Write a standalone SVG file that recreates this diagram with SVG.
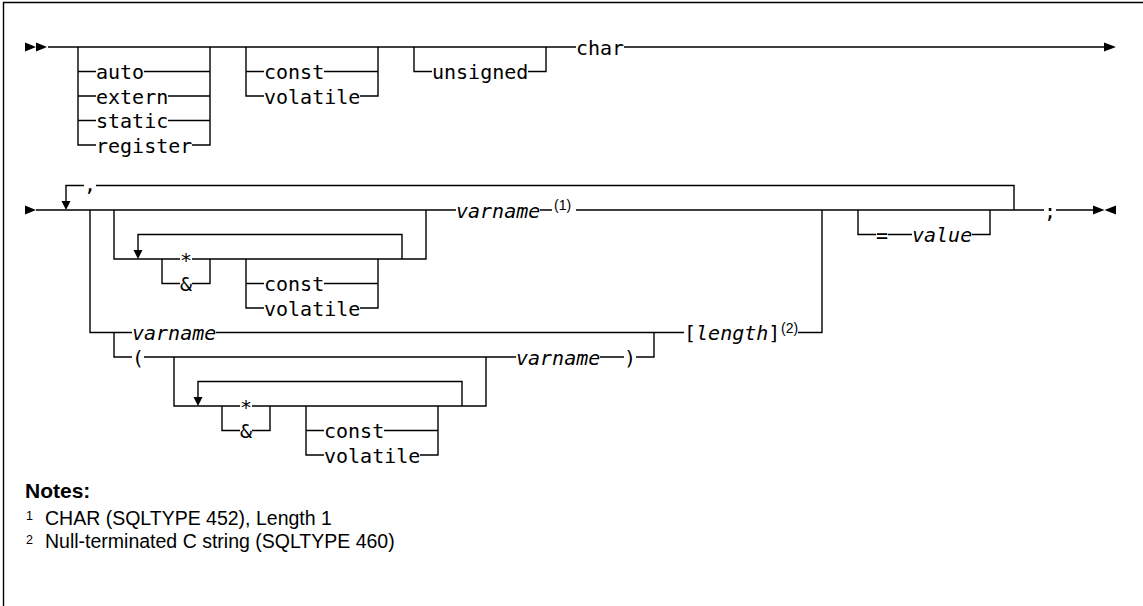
<svg xmlns="http://www.w3.org/2000/svg" width="1143" height="606" viewBox="0 0 1143 606">
<style>
.ln{fill:none;stroke:#000;stroke-width:1.4;stroke-linejoin:miter}
.ar{fill:#000;stroke:none}
.t{font-family:'DejaVu Sans Mono',monospace;font-size:20px;fill:#000}
.i{font-style:italic}
.sup{font-family:'Liberation Sans',Arial,sans-serif;font-size:14px;fill:#000}
.nh{font-family:'Liberation Sans',Arial,sans-serif;font-size:21px;font-weight:bold;fill:#000}
.nt{font-family:'Liberation Sans',Arial,sans-serif;font-size:19.5px;fill:#000}
.ns{font-family:'Liberation Sans',Arial,sans-serif;font-size:12.5px;fill:#000}
</style>
<rect width="1143" height="606" fill="#fff"/>
<path class="ln" d="M3.5,606 V2.5 H1143"/>
<g id="connectors">
<path class="ln" d="M48,47 H576 M624,47 H1104"/>
<path class="ln" d="M78,47 V145 H96 M192,145 H210 V47 M78,71.5 H96 M144,71.5 H210 M78,96 H96 M168,96 H210 M78,120.5 H96 M168,120.5 H210"/>
<path class="ln" d="M246,47 V96 H264 M360,96 H378 V47 M246,71.5 H264 M324,71.5 H378"/>
<path class="ln" d="M414,47 V71.5 H432 M528,71.5 H546 V47"/>
<path class="ln" d="M36,210 H456 M540,210 H552 M576,210 H1044 M1056,210 H1093"/>
<path class="ln" d="M66,202 V185.5 H84 M96,185.5 H1014 V210"/>
<path class="ln" d="M90,210 V332.5 H132 M216,332.5 H684 M798,332.5 H822 V210"/>
<path class="ln" d="M114,332.5 V357 H132 M144,357 H516 M600,357 H624 M636,357 H654 V332.5"/>
<path class="ln" d="M114,210 V259 H180 M192,259 H426 V210 M402,259 V234.5 H138 V251"/>
<path class="ln" d="M162,259 V283.5 H180 M192,283.5 H210 V259"/>
<path class="ln" d="M246,259 V308 H264 M360,308 H378 V259 M246,283.5 H264 M324,283.5 H378"/>
<path class="ln" d="M174,357 V406 H240 M252,406 H486 V357 M462,406 V381.5 H198 V398"/>
<path class="ln" d="M222,406 V430.5 H240 M252,430.5 H270 V406"/>
<path class="ln" d="M306,406 V455 H324 M420,455 H438 V406 M306,430.5 H324 M384,430.5 H438"/>
<path class="ln" d="M858,210 V234.5 H876 M888,234.5 H912 M972,234.5 H990 V210"/>
</g>
<g id="arrows">
<polygon class="ar" points="25,42.5 36,47 25,51.5"/>
<polygon class="ar" points="36,42.5 47,47 36,51.5"/>
<polygon class="ar" points="1104,42.5 1116,47 1104,51.5"/>
<polygon class="ar" points="25,205.5 36,210 25,214.5"/>
<polygon class="ar" points="1093,205.5 1104.5,210 1093,214.5"/>
<polygon class="ar" points="1116,205.5 1104.5,210 1116,214.5"/>
<polygon class="ar" points="61.5,201 70.5,201 66,210"/>
<polygon class="ar" points="133.5,250 142.5,250 138,259"/>
<polygon class="ar" points="193.5,397 202.5,397 198,406"/>
</g>
<g id="n-auto"><text class="t" x="96" y="79">auto</text></g>
<g id="n-extern"><text class="t" x="96" y="103.5">extern</text></g>
<g id="n-static"><text class="t" x="96" y="128">static</text></g>
<g id="n-register"><text class="t" x="96" y="152.5">register</text></g>
<g id="n-const1"><text class="t" x="264" y="79">const</text></g>
<g id="n-volatile1"><text class="t" x="264" y="103.5">volatile</text></g>
<g id="n-unsigned"><text class="t" x="432" y="79">unsigned</text></g>
<g id="n-char"><text class="t" x="576" y="54.5">char</text></g>
<g id="n-comma"><text class="t" x="84" y="191">,</text></g>
<g id="n-varname1"><text class="t i" x="456" y="217.5">varname</text><text class="sup" x="554" y="210">(1)</text></g>
<g id="n-eq"><text class="t" x="876" y="242">=</text></g>
<g id="n-value"><text class="t i" x="912" y="242">value</text></g>
<g id="n-semi"><text class="t" x="1044" y="217.5">;</text></g>
<g id="n-star1"><text class="t" x="180" y="266.5">*</text></g>
<g id="n-amp1"><text class="t" x="180" y="291">&amp;</text></g>
<g id="n-const2"><text class="t" x="264" y="291">const</text></g>
<g id="n-volatile2"><text class="t" x="264" y="315.5">volatile</text></g>
<g id="n-varname2"><text class="t i" x="132" y="340">varname</text></g>
<g id="n-length"><text class="t" x="684" y="340">[<tspan class="i">length</tspan>]</text><text class="sup" x="781" y="332.5">(2)</text></g>
<g id="n-lparen"><text class="t" x="132" y="364.5">(</text></g>
<g id="n-varname3"><text class="t i" x="516" y="364.5">varname</text></g>
<g id="n-rparen"><text class="t" x="624" y="364.5">)</text></g>
<g id="n-star2"><text class="t" x="240" y="413.5">*</text></g>
<g id="n-amp2"><text class="t" x="240" y="438">&amp;</text></g>
<g id="n-const3"><text class="t" x="324" y="438">const</text></g>
<g id="n-volatile3"><text class="t" x="324" y="462.5">volatile</text></g>
<g id="notes">
<text class="nh" x="25" y="498">Notes:</text>
<text class="ns" x="26" y="520">1</text>
<text class="nt" x="45" y="525">CHAR (SQLTYPE 452), Length 1</text>
<text class="ns" x="26" y="544">2</text>
<text class="nt" x="45" y="548">Null-terminated C string (SQLTYPE 460)</text>
</g>
</svg>
